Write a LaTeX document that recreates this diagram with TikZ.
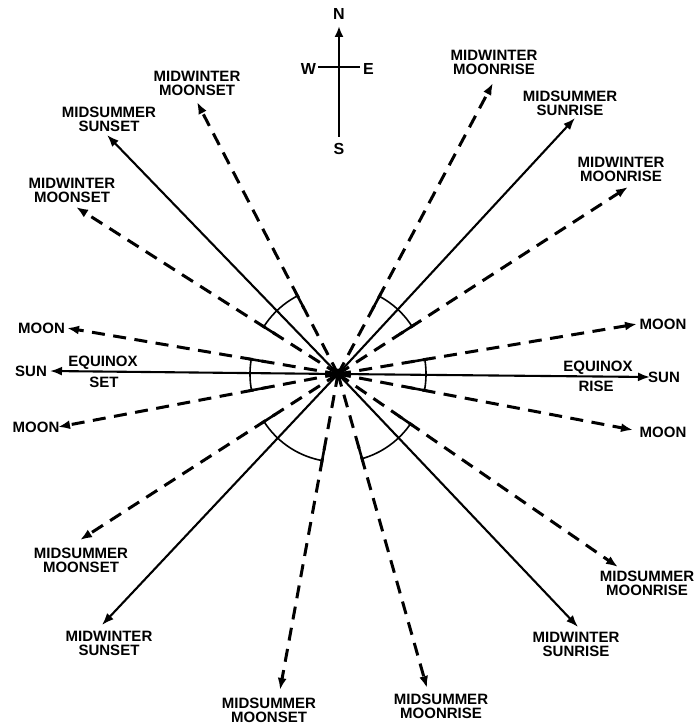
\documentclass[tikz,border=0pt]{standalone}
\usepackage{fontspec}
\setmainfont{Liberation Sans}
\usetikzlibrary{arrows.meta,calc}
\begin{document}
\begin{tikzpicture}[x=1pt,y=-1pt,
  lbl/.style={font=\fontsize{15}{14}\selectfont\bfseries, align=center, inner sep=0pt},
  cmp/.style={font=\fontsize{16}{16}\selectfont\bfseries, inner sep=0pt},
  sunray/.style={line width=2.1pt, -{Latex[length=12pt,width=9pt]}},
  moonray/.style={line width=3pt, dash pattern=on 13pt off 8.5pt, -{Latex[length=12pt,width=9pt]}},
  dimarc/.style={line width=1.6pt},
  dimtick/.style={line width=2.6pt},
  compass/.style={line width=2.4pt}
]
\useasboundingbox (0,0) rectangle (693,727);
\fill[white] (0,0) rectangle (693,727);

% compass
\coordinate (cs) at (339,137);
\coordinate (cn) at (339,26);
\coordinate (cw) at (318,67);
\coordinate (ce) at (360,67);
\node[cmp] (N) at (339,14) {N};
\node[cmp] (W) at (308.5,69) {W};
\node[cmp] (E) at (368.5,69) {E};
\node[cmp] (S) at (339,149) {S};
\draw[compass, -{Latex[length=11pt,width=9pt]}] (cs) -- (cn);
\draw[compass] (cw) -- (ce);

% centre
\coordinate (c) at (338,374);

% tips
\coordinate (t1) at (197,102);
\coordinate (t2) at (107,135);
\coordinate (t3) at (76,207);
\coordinate (t4) at (67,328);
\coordinate (t5) at (50,371);
\coordinate (t6) at (58,427);
\coordinate (t7) at (80,540);
\coordinate (t8) at (102,625);
\coordinate (t9) at (280,690);
\coordinate (t10) at (427,688);
\coordinate (t11) at (578,627);
\coordinate (t12) at (618,567);
\coordinate (t13) at (633,430);
\coordinate (t14) at (650,377);
\coordinate (t15) at (637,324);
\coordinate (t16) at (628,187);
\coordinate (t17) at (575,118);
\coordinate (t18) at (493,83);

% rays
\draw[moonray] (c) -- (t1);
\draw[sunray] (c) -- (t2);
\draw[moonray] (c) -- (t3);
\draw[moonray] (c) -- (t4);
\draw[sunray] (c) -- (t5);
\draw[moonray] (c) -- (t6);
\draw[moonray] (c) -- (t7);
\draw[sunray] (c) -- (t8);
\draw[moonray] (c) -- (t9);
\draw[moonray] (c) -- (t10);
\draw[sunray] (c) -- (t11);
\draw[moonray] (c) -- (t12);
\draw[moonray] (c) -- (t13);
\draw[sunray] (c) -- (t14);
\draw[moonray] (c) -- (t15);
\draw[moonray] (c) -- (t16);
\draw[sunray] (c) -- (t17);
\draw[moonray] (c) -- (t18);
\fill (c) circle (5.5pt);

% angle arcs
\draw[dimarc] plot[domain=117.4:147.5, samples=30, variable=\a] ({338+88*cos(\a)}, {374-88*sin(\a)});
\draw[dimarc] plot[domain=32.8:62.0, samples=30, variable=\a] ({338+88*cos(\a)}, {374-88*sin(\a)});
\draw[dimarc] plot[domain=170.4:190.7, samples=30, variable=\a] ({338+88*cos(\a)}, {374-88*sin(\a)});
\draw[dimarc] plot[domain=-10.7:9.5, samples=30, variable=\a] ({338+88*cos(\a)}, {374-88*sin(\a)});
\draw[dimarc] plot[domain=212.8:259.6, samples=30, variable=\a] ({338+88*cos(\a)}, {374-88*sin(\a)});
\draw[dimarc] plot[domain=285.8:325.4, samples=30, variable=\a] ({338+88*cos(\a)}, {374-88*sin(\a)});
\foreach \t in {t1,t3,t4,t6,t7,t9,t10,t12,t13,t15,t16,t18}
  \draw[dimtick] ($(c)!74pt!(\t)$) -- ($(c)!91pt!(\t)$);

% labels
\node[lbl] (l1) at (197,83.5) {MIDWINTER\\MOONSET};
\node[lbl] (l2) at (109,119.5) {MIDSUMMER\\SUNSET};
\node[lbl] (l3) at (72,190) {MIDWINTER\\MOONSET};
\node[lbl] (l4) at (41.5,328) {MOON};
\node[lbl] (l5) at (31,371) {SUN};
\node[lbl] (l5a) at (103,363) {EQUINOX};
\node[lbl] (l5b) at (104,382) {SET};
\node[lbl] (l6) at (36,427) {MOON};
\node[lbl] (l7) at (81,560) {MIDSUMMER\\MOONSET};
\node[lbl] (l8) at (109,643) {MIDWINTER\\SUNSET};
\node[lbl] (l9) at (269,710) {MIDSUMMER\\MOONSET};
\node[lbl] (l10) at (441,706) {MIDSUMMER\\MOONRISE};
\node[lbl] (l11) at (576,644.5) {MIDWINTER\\SUNRISE};
\node[lbl] (l12) at (647,583.5) {MIDSUMMER\\MOONRISE};
\node[lbl] (l13) at (663,432) {MOON};
\node[lbl] (l14) at (664,377) {SUN};
\node[lbl] (l14a) at (598,368) {EQUINOX};
\node[lbl] (l14b) at (596,386) {RISE};
\node[lbl] (l15) at (663,324) {MOON};
\node[lbl] (l16) at (621,169) {MIDWINTER\\MOONRISE};
\node[lbl] (l17) at (570,103.5) {MIDSUMMER\\SUNRISE};
\node[lbl] (l18) at (494,62.5) {MIDWINTER\\MOONRISE};
\end{tikzpicture}
\end{document}
